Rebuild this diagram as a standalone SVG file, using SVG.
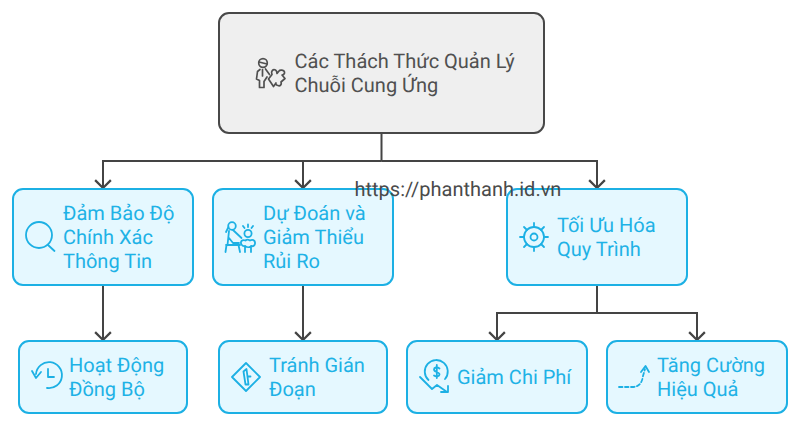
<svg xmlns="http://www.w3.org/2000/svg" width="800" height="426" viewBox="0 0 800 426">
<style>
text{font-family:Roboto,"Noto Sans",sans-serif;font-size:20px;text-rendering:geometricPrecision}
.t{fill:#1eb2e6}
.b{fill:#e5f8ff;stroke:#1cb0e4;stroke-width:2}
.i{fill:none;stroke:#1cb0e4;stroke-width:1.800;stroke-linecap:round;stroke-linejoin:round}
.c{fill:none;stroke:#444;stroke-width:2}
</style>
<defs><marker id="a" markerUnits="userSpaceOnUse" markerWidth="18" markerHeight="12" refX="8" refY="9" viewBox="0 0 16 10" overflow="visible"><path d="M1 2L8 9L15 2" fill="none" stroke="#444" stroke-width="2"/></marker></defs>
<rect width="800" height="426" fill="#fff"/>
<g id="connectors" class="c">
<path d="M381.500 133V161M381.500 161H103V188" marker-end="url(#a)"/>
<path d="M381.500 161H303V188" marker-end="url(#a)"/>
<path d="M381.500 161H597V188" marker-end="url(#a)"/>
<path d="M103 285V340" marker-end="url(#a)"/>
<path d="M303 285V340" marker-end="url(#a)"/>
<path d="M597 285V313H497V340" marker-end="url(#a)"/>
<path d="M597 313H697V340" marker-end="url(#a)"/>
</g>
<g id="root">
<rect x="219" y="13" width="325" height="120" rx="10" fill="#efefef" stroke="#484848" stroke-width="2"/>
<g fill="none" stroke="#505050" stroke-width="1.700" stroke-linejoin="round" stroke-linecap="round">
<circle cx="263" cy="63" r="4.300"/><path d="M259 62L267 64"/>
<path d="M260 69.500L257.500 71.500L256.500 79L259.500 80.500V87.500H264V81.500L267 77M265.500 69L269.500 74.500M262.500 69.500V76"/>
<path d="M268.500 79L272 74.500C270.500 71 273 69 275.500 70C277 71 277 72 277 73.500L279 71C280 69.500 284 70 284.500 72C285 74 283 75 282 75L285 78.500L281 82C282 84.500 280 86.500 278 85.500C276 85 275.500 84 276 83L273.500 86.500Z"/>
</g>
<text x="294.500" y="68" fill="#505050">Các Thách Thức Quản Lý</text>
<text x="294.500" y="92" fill="#505050">Chuỗi Cung Ứng</text>
</g>
<g id="n1">
<rect class="b" x="13" y="189" width="180" height="96" rx="10"/>
<circle class="i" cx="39" cy="235" r="13"/><path class="i" d="M48 245L54.500 251"/>
<text class="t" x="63" y="220">Đảm Bảo Độ</text><text class="t" x="63" y="244">Chính Xác</text><text class="t" x="63" y="268">Thông Tin</text>
</g>
<g id="n2">
<rect class="b" x="213" y="189" width="180" height="96" rx="10"/>
<g class="i"><circle cx="232" cy="226" r="3.800"/><path d="M228.500 227L226 232M229 231L227.500 245M233 230L241.500 238M229 238L233 243H239M226 245H240M226.500 245L225.500 252M238.500 245L240 252"/><circle cx="248" cy="233.500" r="3.600"/><path d="M241.500 241C240 243 242 247 245 246C247 247.500 250 247.500 251.500 246C254 247 256 244 254.500 241C253 239.500 251 240 250 240.500C248.500 239.500 246.500 239.500 245.500 240.500C244 240 242.500 240 241.500 241ZM245 246V252M251 246V252M248 224.500V227M243 226L244.500 228M253 226L251.500 228"/></g>
<text class="t" x="263" y="220">Dự Đoán và</text><text class="t" x="263" y="244">Giảm Thiểu</text><text class="t" x="263" y="268">Rủi Ro</text>
</g>
<g id="n3">
<rect class="b" x="507" y="189" width="180" height="96" rx="10"/>
<g class="i"><circle cx="534" cy="237" r="10"/><circle cx="534" cy="237" r="3.500"/><path d="M534 223V227M534 247V251M520 237H524M544 237H548M524 227L527 230M544 227L541 230M524 247L527 244M544 247L541 244"/></g>
<text class="t" x="557" y="232">Tối Ưu Hóa</text><text class="t" x="557" y="256">Quy Trình</text>
</g>
<g id="n4">
<rect class="b" x="19" y="341" width="168" height="72" rx="10"/>
<path class="i" d="M36 374A13 13 0 1 1 47 388M32 371L36 378L41 372M48 369V377H54"/>
<text class="t" x="69" y="372">Hoạt Động</text><text class="t" x="69" y="396">Đồng Bộ</text>
</g>
<g id="n5">
<rect class="b" x="219" y="341" width="168" height="72" rx="10"/>
<g class="i"><path d="M246 363L260 377L246 391L232 377Z"/><path d="M243.500 371.500L246.500 369L248.500 384.500H245.500ZM248 376.500H250.500"/></g>
<text class="t" x="269" y="372">Tránh Gián</text><text class="t" x="269" y="396">Đoạn</text>
</g>
<g id="n6">
<rect class="b" x="407" y="341" width="180" height="72" rx="10"/>
<g class="i"><path d="M428.500 380A11.500 11.500 0 1 1 445 379"/><path d="M420 377L432 389L437 385L447 392M441 392H448V386"/><path d="M439.500 368.500C437 366.500 434 367.500 434 369.500C434 372.500 439.500 371.500 439.500 374.500C439.500 376.500 436 377 434 375.500M436.800 365V378"/></g>
<text class="t" x="457" y="384">Giảm Chi Phí</text>
</g>
<g id="n7">
<rect class="b" x="607" y="341" width="180" height="72" rx="10"/>
<path class="i" d="M619 387H632C639 387 642 383 643 376L645 369" stroke-dasharray="3.500 2.500"/><path class="i" d="M641 372L645.500 366L649 372"/>
<text class="t" x="657" y="372">Tăng Cường</text><text class="t" x="657" y="396">Hiệu Quả</text>
</g>
<text x="354.500" y="196" fill="#4a4a4a">https://phanthanh.id.vn</text>
</svg>
